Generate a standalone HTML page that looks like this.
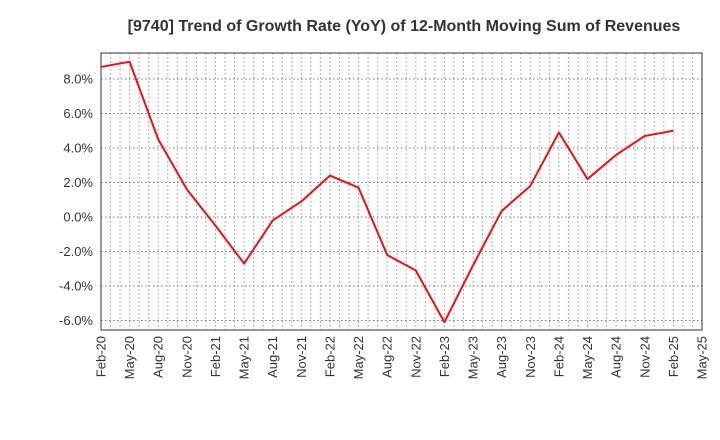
<!DOCTYPE html>
<html><head><meta charset="utf-8"><style>body{margin:0;background:#fff}svg{display:block}</style></head>
<body>
<svg id="chart" width="720" height="440" xmlns="http://www.w3.org/2000/svg" font-family="Liberation Sans, sans-serif">
<text x="404" y="31" text-anchor="middle" font-size="16" font-weight="bold" fill="#333">[9740]  Trend of Growth Rate (YoY) of 12-Month Moving Sum of Revenues</text>
<g id="grid"></g><g id="axes"></g><g id="series"></g>
</svg>
<script>
const xLabels=["Feb-20","May-20","Aug-20","Nov-20","Feb-21","May-21","Aug-21","Nov-21","Feb-22","May-22","Aug-22","Nov-22","Feb-23","May-23","Aug-23","Nov-23","Feb-24","May-24","Aug-24","Nov-24","Feb-25","May-25"];
const yTicks=[-6,-4,-2,0,2,4,6,8];
const values=[8.7,9.0,4.5,1.6,-0.5,-2.7,-0.2,0.9,2.4,1.7,-2.2,-3.1,-6.1,-2.8,0.35,1.8,4.9,2.2,3.6,4.7,5.0];
const L=101,R=702,T=53,B=330,NS="http://www.w3.org/2000/svg";
const x=i=>L+(R-L)*i/(xLabels.length-1);
const y=v=>217-v*17.25;
function mk(t,a,p){const e=document.createElementNS(NS,t);for(const k in a)e.setAttribute(k,a[k]);p.appendChild(e);return e;}
const g=document.getElementById('grid'),ax=document.getElementById('axes'),s=document.getElementById('series');
for(let m=1;m<(xLabels.length-1)*3;m++){const xx=L+(R-L)*m/((xLabels.length-1)*3);
const l=mk('line',{x1:xx,x2:xx,y1:T,y2:B,stroke:'#999','stroke-dasharray':'1.5,2.5','stroke-width':1},g);
}
yTicks.forEach(v=>{const l=mk('line',{x1:L,x2:R,y1:y(v),y2:y(v),stroke:'#777','stroke-dasharray':'1.5,2.5'},g);

const t=mk('text',{x:L-8,y:y(v)+4.5,'text-anchor':'end','font-size':13,fill:'#333'},ax);t.textContent=v.toFixed(1)+'%';
});
xLabels.forEach((lb,i)=>{const t=mk('text',{transform:`translate(${x(i)+4.5},${B+6}) rotate(-90)`,'text-anchor':'end','font-size':13,fill:'#333'},ax);t.textContent=lb;
});
const f=mk('rect',{x:L,y:T,width:R-L,height:B-T,fill:'none',stroke:'#333','stroke-width':1},ax);

const p=mk('polyline',{points:values.map((v,i)=>x(i)+','+y(v)).join(' '),fill:'none',stroke:'#ee1111','stroke-width':2,'stroke-linejoin':'round'},s);

</script>
</body></html>
